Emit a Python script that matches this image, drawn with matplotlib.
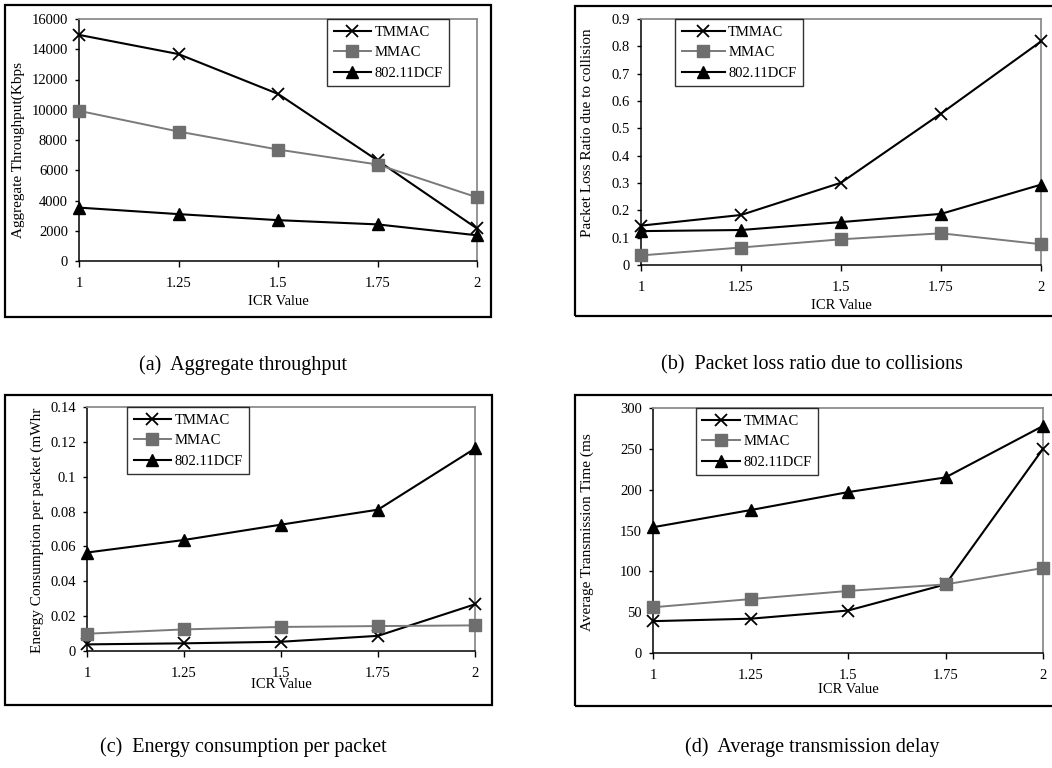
import numpy as np
import matplotlib
matplotlib.use('Agg')
import matplotlib.pyplot as plt
from matplotlib.patches import Rectangle
from matplotlib.ticker import FuncFormatter

plt.rcParams['font.family'] = ['Liberation Serif', 'DejaVu Serif']

# data
icr = [1, 1.25, 1.5, 1.75, 2]
series_names = ['TMMAC', 'MMAC', '802.11DCF']

thr_tmmac = [14950, 13680, 11050, 6650, 2150]
thr_mmac = [9930, 8560, 7370, 6380, 4210]
thr_dcf = [3530, 3100, 2700, 2420, 1700]

loss_tmmac = [0.144, 0.183, 0.301, 0.554, 0.818]
loss_mmac = [0.035, 0.064, 0.094, 0.116, 0.076]
loss_dcf = [0.124, 0.128, 0.157, 0.187, 0.294]

energy_tmmac = [0.0038, 0.0044, 0.0053, 0.0087, 0.0268]
energy_mmac = [0.0099, 0.0124, 0.0138, 0.0143, 0.0147]
energy_dcf = [0.0565, 0.0637, 0.0725, 0.0811, 0.1162]

delay_tmmac = [39, 42, 52, 84, 250]
delay_mmac = [56, 66, 76, 84, 104]
delay_dcf = [154, 175, 197, 215, 278]

fig = plt.figure(figsize=(10.52, 7.68), dpi=100)
W, H = 1052.0, 768.0

def px_axes(left, top, right, bottom):
    return fig.add_axes([left / W, 1 - bottom / H, (right - left) / W, (bottom - top) / H])

def frame(left, top, right, bottom):
    fig.patches.append(Rectangle((left / W, 1 - bottom / H), (right - left) / W, (bottom - top) / H,
                                 transform=fig.transFigure, fill=False, ec='black', lw=1.6))

styles = [dict(color='black', marker='x', ms=9, mew=1.3, lw=1.5),
          dict(color='#7a7a7a', marker='s', ms=8, mec='#6e6e6e', mfc='#6e6e6e', lw=1.4),
          dict(color='black', marker='^', ms=9, lw=1.5)]

def draw_panel(ax, data, ylim, ystep, ylabel, ylab_pos, xlab_y, leg_x, handlelen, fmt):
    for vals, name, st in zip(data, series_names, styles):
        ax.plot(icr, vals, label=name, clip_on=False, zorder=3, **st)
    ax.set_xlim(1, 2)
    ax.set_ylim(0, ylim)
    ax.set_xticks(icr)
    ax.set_xticklabels(['1', '1.25', '1.5', '1.75', '2'])
    ax.set_yticks(np.arange(0, ylim + ystep / 2, ystep))
    ax.yaxis.set_major_formatter(FuncFormatter(fmt))
    ax.tick_params(axis='x', direction='out', length=4.5, width=1, pad=7, labelsize=10.5)
    ax.tick_params(axis='y', direction='out', length=3, width=1, pad=5, labelsize=10.5)
    for s in ['top', 'right']:
        ax.spines[s].set_color('#8c8c8c')
        ax.spines[s].set_linewidth(1.3)
    for s in ['left', 'bottom']:
        ax.spines[s].set_color('black')
        ax.spines[s].set_linewidth(1.1)
    ax.text(ylab_pos[0], ylab_pos[1], ylabel, rotation=90, ha='center', va='center',
            fontsize=11, transform=ax.transAxes)
    ax.text(0.5, xlab_y, 'ICR Value', ha='center', va='center', fontsize=10.5,
            transform=ax.transAxes)
    leg = ax.legend(loc='upper left', bbox_to_anchor=(leg_x, 1.0), borderaxespad=0,
                    fontsize=10.5, frameon=True, fancybox=False, edgecolor='black',
                    handlelength=handlelen, handletextpad=0.2, borderpad=0.45,
                    labelspacing=0.5)
    leg.get_frame().set_linewidth(1.0)
    leg.set_zorder(5)

# (a) throughput
frame(5, 5, 491, 317)
ax_a = px_axes(79, 19, 477, 261)
draw_panel(ax_a, [thr_tmmac, thr_mmac, thr_dcf], 16000, 2000,
           'Aggregate Throughput(Kbps', (-0.153, 0.459), -0.169, 0.623, 2.6,
           lambda v, p: '%d' % v)

# (b) packet loss
frame(575, 6, 1060, 316)
ax_b = px_axes(641, 19, 1041, 265)
draw_panel(ax_b, [loss_tmmac, loss_mmac, loss_dcf], 0.9, 0.1,
           'Packet Loss Ratio due to collision', (-0.133, 0.539), -0.163, 0.085, 3.0,
           lambda v, p: '%g' % round(v, 3))

# (c) energy
frame(5, 395, 492, 705)
ax_c = px_axes(87, 407, 475, 651)
draw_panel(ax_c, [energy_tmmac, energy_mmac, energy_dcf], 0.14, 0.02,
           'Energy Consumption per packet (mWhr', (-0.129, 0.496), -0.139, 0.103, 2.6,
           lambda v, p: '%g' % round(v, 4))

# (d) delay
frame(575, 395, 1060, 706)
ax_d = px_axes(653, 408, 1043, 653)
draw_panel(ax_d, [delay_tmmac, delay_mmac, delay_dcf], 300, 50,
           'Average Transmission Time (ms', (-0.169, 0.492), -0.151, 0.110, 2.6,
           lambda v, p: '%d' % v)

# captions
fig.text(243 / W, 1 - 365 / H, '(a)  Aggregate throughput', ha='center', va='center', fontsize=14.5)
fig.text(812 / W, 1 - 365 / H, '(b)  Packet loss ratio due to collisions', ha='center', va='center', fontsize=14.5)
fig.text(243 / W, 1 - 747 / H, '(c)  Energy consumption per packet', ha='center', va='center', fontsize=14.5)
fig.text(812 / W, 1 - 747 / H, '(d)  Average transmission delay', ha='center', va='center', fontsize=14.5)

fig.savefig('out.png', dpi=100)
